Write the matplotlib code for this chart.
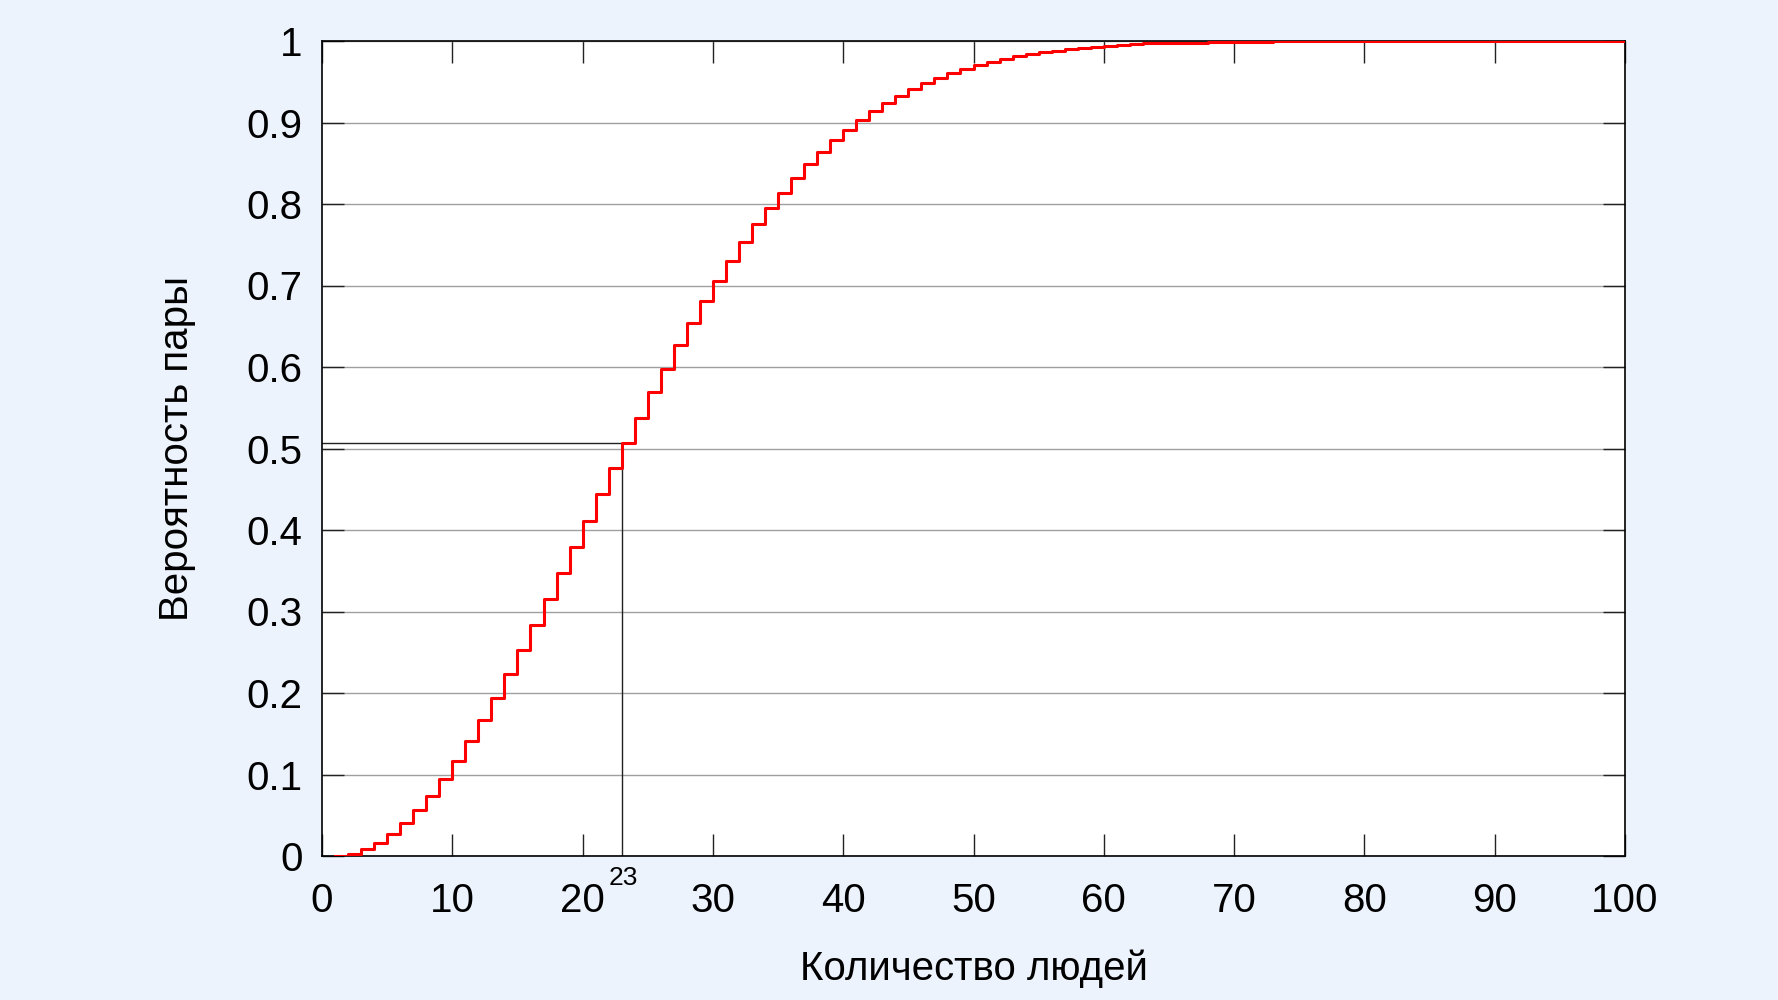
import matplotlib
matplotlib.use("Agg")
import matplotlib.pyplot as plt

# number of people and probability of at least one shared birthday
people = list(range(1, 101))
prob = [
    0.000, 0.003, 0.008, 0.016, 0.027, 0.040, 0.056, 0.074, 0.095, 0.117,
    0.141, 0.167, 0.194, 0.223, 0.253, 0.284, 0.315, 0.347, 0.379, 0.411,
    0.444, 0.476, 0.507, 0.538, 0.569, 0.598, 0.627, 0.654, 0.681, 0.706,
    0.730, 0.753, 0.775, 0.795, 0.814, 0.832, 0.849, 0.864, 0.878, 0.891,
    0.903, 0.914, 0.924, 0.933, 0.941, 0.948, 0.955, 0.961, 0.966, 0.970,
    0.974, 0.978, 0.981, 0.984, 0.986, 0.988, 0.990, 0.992, 0.993, 0.994,
    0.995, 0.996, 0.997, 0.997, 0.998, 0.998, 0.998, 0.999, 0.999, 0.999,
    0.999, 0.999, 1.000, 1.000, 1.000, 1.000, 1.000, 1.000, 1.000, 1.000,
    1.000, 1.000, 1.000, 1.000, 1.000, 1.000, 1.000, 1.000, 1.000, 1.000,
    1.000, 1.000, 1.000, 1.000, 1.000, 1.000, 1.000, 1.000, 1.000, 1.000,
]
marked_n = 23
marked_p = 0.507

x_ticks = [0, 10, 20, 30, 40, 50, 60, 70, 80, 90, 100]
y_ticks = [0, 0.1, 0.2, 0.3, 0.4, 0.5, 0.6, 0.7, 0.8, 0.9, 1]
y_labels = ["0", "0.1", "0.2", "0.3", "0.4", "0.5", "0.6", "0.7", "0.8", "0.9", "1"]

plt.rcParams["font.family"] = ["Liberation Sans", "DejaVu Sans"]

W, H = 1778, 1000
fig = plt.figure(figsize=(W / 100, H / 100), dpi=100, facecolor="#edf3fd")

# white page panel behind the chart
panel = fig.add_axes([89 / W, 0, 1600 / W, 1], zorder=-5)
panel.set_facecolor("white")
panel.set_axis_off()
panel.patch.set_visible(True)

ax = fig.add_axes([322 / W, 1 - 856 / H, (1625 - 322) / W, (856 - 41) / H])
ax.set_facecolor("white")

ax.step(people, prob, where="post", color="#ff0000", lw=2.2, zorder=3)

# marker for 23 people
ax.plot([0, marked_n], [marked_p, marked_p], color="#222222", lw=1.0, zorder=2)
ax.plot([marked_n, marked_n], [0, marked_p], color="#222222", lw=1.0, zorder=2)
ax.annotate(str(marked_n), xy=(marked_n, 0), xytext=(1, -7), textcoords="offset points",
            ha="center", va="top", fontsize=19)

ax.set_xlim(0, 100)
ax.set_ylim(0, 1)
ax.set_xticks(x_ticks)
ax.set_yticks(y_ticks)
ax.set_yticklabels(y_labels)
ax.yaxis.grid(True, color="#a0a0a0", lw=1.0)
ax.set_axisbelow(True)

ax.tick_params(direction="in", length=16, width=1.0, color="#222222",
               top=True, right=True, labelsize=29)
ax.tick_params(axis="x", pad=19)
ax.tick_params(axis="y", pad=14)
for s in ax.spines.values():
    s.set_linewidth(1.2)
    s.set_color("black")

ax.set_xlabel("Количество людей", fontsize=29, labelpad=21)
ax.set_ylabel("Вероятность пары", fontsize=29, labelpad=36)

fig.savefig("out.png", dpi=100, facecolor=fig.get_facecolor())
